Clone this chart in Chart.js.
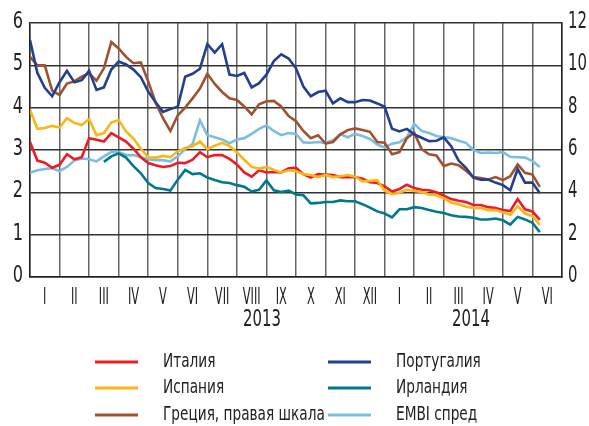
<!DOCTYPE html>
<html>
<head>
<meta charset="utf-8">
<script src="https://cdn.jsdelivr.net/npm/chart.js@4/dist/chart.umd.min.js"></script>
<style>
  html, body { margin: 0; padding: 0; background: #fff; }
  #wrap { width: 589px; height: 426px; }
</style>
</head>
<body>
<div id="wrap"><canvas id="spreadChart" width="589" height="426"></canvas></div>
<script>
// weekly points, position in months from Jan 2013 (0 = 1 Jan 2013)
const weekPos = Array.from({ length: 70 }, (_, i) => i * 0.25);

const monthLabels = ['I','II','III','IV','V','VI','VII','VIII','IX','X','XI','XII','I','II','III','IV','V','VI'];
const yearLabels = ['2013', '2014'];
const yearPos = [7.85, 14.92];

const italy = [3.19,2.75,2.7,2.58,2.65,2.9,2.78,2.83,3.28,3.24,3.2,3.4,3.3,3.2,3.03,2.83,2.69,2.64,2.6,2.62,
  2.7,2.69,2.77,2.95,2.83,2.88,2.88,2.79,2.66,2.47,2.37,2.52,2.47,2.48,2.47,2.57,2.58,2.43,2.35,2.43,
  2.42,2.41,2.36,2.36,2.36,2.32,2.24,2.22,2.14,2.02,2.08,2.18,2.1,2.06,2.05,2.0,1.92,1.84,1.8,1.77,
  1.7,1.7,1.65,1.63,1.58,1.56,1.84,1.6,1.55,1.35];

const spain = [3.95,3.5,3.52,3.57,3.53,3.75,3.64,3.59,3.73,3.35,3.4,3.65,3.71,3.44,3.27,3.03,2.83,2.82,2.86,2.83,
  2.97,3.05,3.09,3.2,3.02,3.1,3.17,3.09,2.95,2.77,2.6,2.56,2.6,2.53,2.47,2.52,2.5,2.43,2.41,2.36,
  2.41,2.36,2.38,2.41,2.37,2.26,2.27,2.29,2.04,1.96,1.99,2.06,2.03,2.01,1.95,1.93,1.86,1.76,1.72,1.66,
  1.63,1.63,1.58,1.58,1.53,1.47,1.67,1.5,1.44,1.23];

// right scale
const greece = [10.4,10.0,10.0,8.8,8.6,9.14,9.24,9.46,9.62,9.28,9.86,11.1,10.8,10.4,10.1,10.14,9.24,8.24,7.5,6.9,
  7.64,8.0,8.44,8.9,9.6,9.12,8.74,8.44,8.36,8.06,7.68,8.16,8.3,8.32,8.06,7.6,7.36,6.9,6.56,6.7,
  6.3,6.38,6.74,6.94,7.02,6.94,6.86,6.38,6.34,5.8,5.9,6.56,6.82,6.04,5.8,5.74,5.24,5.36,5.28,5.02,
  4.72,4.68,4.6,4.72,4.58,4.76,5.32,4.92,4.84,4.26];

const portugal = [5.6,4.82,4.47,4.27,4.6,4.87,4.6,4.65,4.87,4.42,4.48,4.9,5.09,5.02,4.9,4.72,4.38,4.13,3.9,3.97,
  4.02,4.73,4.8,4.92,5.5,5.3,5.5,4.78,4.75,4.82,4.48,4.58,4.78,5.1,5.26,5.16,4.93,4.5,4.27,4.37,
  4.4,4.1,4.22,4.13,4.13,4.18,4.17,4.1,4.02,3.5,3.44,3.5,3.37,3.29,3.21,3.22,3.3,3.09,2.75,2.58,
  2.35,2.3,2.3,2.23,2.17,2.05,2.55,2.23,2.23,1.98];

const ireland = [null,null,null,null,null,null,null,null,null,null,2.72,2.85,2.92,2.82,2.62,2.45,2.22,2.1,2.08,2.04,
  2.3,2.53,2.43,2.45,2.35,2.29,2.24,2.22,2.17,2.13,2.02,2.06,2.28,2.05,2.01,2.04,1.95,1.93,1.74,1.75,
  1.77,1.77,1.81,1.79,1.79,1.72,1.64,1.55,1.5,1.41,1.6,1.6,1.65,1.63,1.58,1.54,1.51,1.46,1.43,1.42,
  1.4,1.36,1.36,1.38,1.34,1.24,1.42,1.36,1.28,1.06];

const embi = [2.46,2.52,2.55,2.57,2.5,2.6,2.75,2.8,2.78,2.73,2.85,2.95,2.95,2.88,2.88,2.83,2.78,2.76,2.76,2.73,
  2.85,3.02,3.14,3.7,3.35,3.3,3.25,3.16,3.25,3.28,3.38,3.5,3.58,3.45,3.35,3.4,3.38,3.18,3.17,3.19,
  3.17,3.23,3.37,3.3,3.38,3.33,3.26,3.13,3.06,3.15,3.18,3.3,3.62,3.45,3.4,3.33,3.3,3.28,3.22,3.17,
  3.0,2.93,2.94,2.93,2.95,2.84,2.83,2.82,2.74,2.6];

const leftTicks = [0, 1, 2, 3, 4, 5, 6];
const rightTicks = [0, 2, 4, 6, 8, 10, 12];

const legendOrder = ['Италия', 'Испания', 'Греция, правая шкала', 'Португалия', 'Ирландия', 'EMBI спред'];

const FONT = '"Liberation Sans Narrow", "DejaVu Sans Condensed", "Roboto", sans-serif';

const toPoints = (arr) => arr.map((v, i) => ({ x: weekPos[i], y: v }));

const series = (label, data, color, axis) => ({
  label: label,
  data: toPoints(data),
  borderColor: color,
  backgroundColor: color,
  borderWidth: 2.6,
  pointRadius: 0,
  tension: 0,
  spanGaps: false,
  yAxisID: axis || 'y',
});

// drawn top-first
const datasets = [
  series('Португалия', portugal, '#243f8f'),
  series('Греция, правая шкала', greece, '#a0522f', 'y2'),
  series('Испания', spain, '#f8b617'),
  series('Италия', italy, '#ec1c24'),
  series('Ирландия', ireland, '#00798c'),
  series('EMBI спред', embi, '#7dbde1'),
];

const monthEdges = [];
for (let m = 0; m <= 18; m++) monthEdges.push(m);

// narrow text, like the condensed face of the original
function narrowText(ctx, text, x, y, sx, align) {
  ctx.save();
  ctx.translate(x, y);
  ctx.scale(sx, 1);
  ctx.textAlign = align || 'center';
  ctx.fillText(text, 0, 0);
  ctx.restore();
}

const labelPlugin = {
  id: 'axisText',
  afterDraw(chart) {
    const ctx = chart.ctx;
    const xs = chart.scales.x, yl = chart.scales.y, yr = chart.scales.y2;
    ctx.save();
    ctx.fillStyle = '#222';
    ctx.textBaseline = 'middle';

    ctx.font = '23px ' + FONT;
    monthLabels.forEach((lab, i) => {
      narrowText(ctx, lab, xs.getPixelForValue(i + 0.5), xs.top + 21, 0.55);
    });
    yearLabels.forEach((lab, i) => {
      narrowText(ctx, lab, xs.getPixelForValue(yearPos[i]), xs.top + 43, 0.72);
    });

    ctx.font = '23px ' + FONT;
    leftTicks.forEach(v => {
      narrowText(ctx, String(v), yl.left + yl.width - 7, yl.getPixelForValue(v) - 1, 0.78, 'right');
    });
    rightTicks.forEach(v => {
      narrowText(ctx, String(v), yr.left + 6, yr.getPixelForValue(v) - 1, 0.72, 'left');
    });

    // legend in two columns
    const cols = [95, 328];
    const rows = [362, 388, 415];
    ctx.font = '19px ' + FONT;
    legendOrder.forEach((label, i) => {
      const ds = chart.data.datasets.find(d => d.label === label);
      const x = cols[Math.floor(i / 3)];
      const y = rows[i % 3];
      ctx.strokeStyle = ds.borderColor;
      ctx.lineWidth = 3;
      ctx.beginPath();
      ctx.moveTo(x, y);
      ctx.lineTo(x + 43, y);
      ctx.stroke();
      narrowText(ctx, label, x + 68, y, 0.8, 'left');
    });
    ctx.restore();
  }
};

const options = {
  responsive: false,
  animation: false,
  layout: { padding: { top: 23, bottom: 89, left: 0, right: 0 } },
  plugins: {
    legend: { display: false },
    tooltip: { enabled: false },
  },
  scales: {
    x: {
      type: 'linear',
      min: 0,
      max: 18,
      afterBuildTicks: (axis) => { axis.ticks = monthEdges.map(v => ({ value: v })); },
      afterFit: (s) => { s.height = 60; },
      ticks: { display: false },
      grid: { drawTicks: false, lineWidth: 1.5, color: '#666' },
      border: { display: true, color: '#222', width: 1.5 },
    },
    y: {
      position: 'left',
      min: 0,
      max: 6,
      afterBuildTicks: (axis) => { axis.ticks = leftTicks.map(v => ({ value: v })); },
      afterFit: (s) => { s.width = 30; },
      ticks: { display: false },
      grid: { drawTicks: false, lineWidth: 1.5, color: '#333' },
      border: { display: true, color: '#222', width: 1.5 },
    },
    y2: {
      position: 'right',
      min: 0,
      max: 12,
      afterBuildTicks: (axis) => { axis.ticks = rightTicks.map(v => ({ value: v })); },
      afterFit: (s) => { s.width = 27; },
      ticks: { display: false },
      grid: { display: false, drawTicks: false },
      border: { display: true, color: '#222', width: 1.5 },
    },
  },
};

const ctx = document.getElementById('spreadChart').getContext('2d');
new Chart(ctx, {
  type: 'line',
  data: { datasets: datasets },
  options: options,
  plugins: [labelPlugin],
});
</script>
</body>
</html>
